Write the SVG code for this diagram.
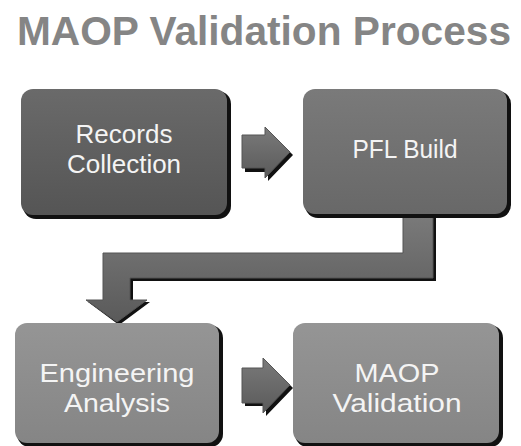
<svg xmlns="http://www.w3.org/2000/svg" width="521" height="446" viewBox="0 0 521 446">
<defs>
<linearGradient id="gDark" x1="0" y1="0" x2="0" y2="1"><stop offset="0" stop-color="#6a6a6a"/><stop offset="1" stop-color="#555"/></linearGradient>
<linearGradient id="gMid" x1="0" y1="0" x2="0" y2="1"><stop offset="0" stop-color="#7a7a7a"/><stop offset="1" stop-color="#686868"/></linearGradient>
<linearGradient id="gLight" x1="0" y1="0" x2="0" y2="1"><stop offset="0" stop-color="#959595"/><stop offset="1" stop-color="#858585"/></linearGradient>
<linearGradient id="gArrow" x1="0" y1="0" x2="0" y2="1"><stop offset="0" stop-color="#7a7a7a"/><stop offset="1" stop-color="#5a5a5a"/></linearGradient>
</defs>
<style>
.shadow{fill:#111}
.label{font-family:"Liberation Sans","DejaVu Sans",sans-serif;fill:#f4f4f4;text-anchor:middle;font-size:26px}
.title{font-family:"Liberation Sans","DejaVu Sans",sans-serif;font-weight:bold;fill:#858585}
.arrow{fill:url(#gArrow);stroke:#555;stroke-width:1}
</style>
<rect width="521" height="446" fill="#ffffff"/>
<text class="title" x="17" y="45" font-size="41" textLength="494" lengthAdjust="spacingAndGlyphs">MAOP Validation Process</text>

<g id="connectors">
<polygon class="shadow" points="245,138 268,138 268,130 293,155 268,181 268,172 245,172"/>
<polygon class="arrow" points="242,135 265,135 265,127 290,152 265,178 265,168 242,168"/>
<polygon class="shadow" points="405,216 436,216 436,281 133,281 133,302 150,302 119,325 88,302 105,302 105,256 405,256"/>
<polygon class="arrow" points="403,214 433,214 433,278 130,278 130,300 147,300 117,322 86,300 103,300 103,253 403,253"/>
<polygon class="shadow" points="245,371 266,371 266,361 293,388 266,416 266,406 245,406"/>
<polygon class="arrow" points="242,368 263,368 263,358 290,385 263,413 263,403 242,403"/>
</g>

<g id="records">
<rect class="shadow" x="23" y="91" width="208" height="128" rx="13"/>
<rect x="21" y="89" width="206" height="126" rx="12" fill="url(#gDark)"/>
<text class="label"><tspan x="124" y="143">Records</tspan><tspan x="124" y="173">Collection</tspan></text>
</g>

<g id="pfl">
<rect class="shadow" x="305" y="91" width="206" height="127" rx="13"/>
<rect x="303" y="89" width="204" height="125" rx="12" fill="url(#gMid)"/>
<text class="label" x="405" y="158" textLength="105" lengthAdjust="spacingAndGlyphs">PFL Build</text>
</g>

<g id="engineering">
<rect class="shadow" x="17" y="325" width="206" height="122" rx="13"/>
<rect x="15" y="323" width="204" height="120" rx="12" fill="url(#gLight)"/>
<text class="label" x="117" y="382" textLength="155" lengthAdjust="spacingAndGlyphs">Engineering</text>
<text class="label" x="117" y="412" textLength="106" lengthAdjust="spacingAndGlyphs">Analysis</text>
</g>

<g id="maop">
<rect class="shadow" x="295" y="325" width="208" height="122" rx="13"/>
<rect x="293" y="323" width="206" height="120" rx="12" fill="url(#gLight)"/>
<text class="label" x="397" y="382" textLength="85" lengthAdjust="spacingAndGlyphs">MAOP</text>
<text class="label" x="397" y="412" textLength="129" lengthAdjust="spacingAndGlyphs">Validation</text>
</g>
</svg>
